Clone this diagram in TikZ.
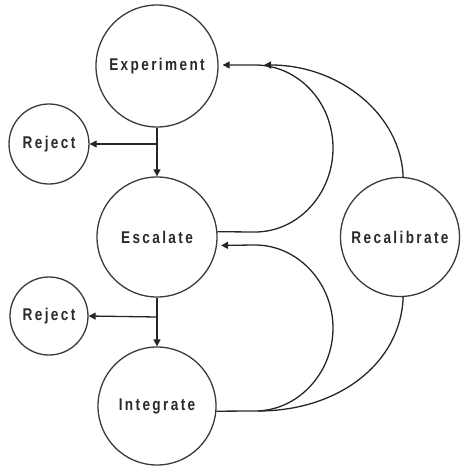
\documentclass[tikz,border=0pt]{standalone}
\usepackage{fontspec}
\newfontfamily\lblfont{Liberation Sans}[FakeStretch=0.8,LetterSpace=14,BoldFont={* Bold}]
\usetikzlibrary{arrows.meta}
\definecolor{ln}{HTML}{3A3A3A}
\definecolor{tx}{HTML}{2A2A2A}
\begin{document}
\begin{tikzpicture}[x=1pt,y=-1pt,
  state/.style={circle,draw=ln,line width=1.3pt,inner sep=0pt,text=tx,
    font=\lblfont\bfseries\fontsize{17}{20}\selectfont},
  arr/.style={draw=black!85,line width=1.3pt,-{Triangle[length=7pt,width=7pt]}},
  ln/.style={draw=black!85,line width=1.3pt}]
\useasboundingbox (0,0) rectangle (461,466);
\node[state,minimum size=122pt] (exp) at (157,66) {Experiment};
\node[state,minimum size=80pt] (rej1) at (49,144) {Reject};
\node[state,minimum size=120pt] (esc) at (157,237) {Escalate};
\node[state,minimum size=78pt] (rej2) at (49,316) {Reject};
\node[state,minimum size=118pt] (int) at (157,406) {Integrate};
\node[state,minimum size=119pt] (rec) at (400,237) {Recalibrate};
\coordinate (b1) at (157,144);
\coordinate (b2) at (157,317);
\coordinate (m1) at (264,65);
\coordinate (m2) at (258,411);
\draw[arr] (exp.south) -- (esc.north);
\draw[arr] (b1) -- (rej1.east);
\draw[arr] (esc.south) -- (int.north);
\draw[arr] (b2) -- (rej2.east);
\draw[arr,shorten >=4pt] (esc.5) -- (255,232) .. controls (298,232) and (333,194) .. (333,148)
   .. controls (333,102) and (298,65) .. (255,65) -- (exp.east |- 0,65);
\draw[arr] (rec.87) .. controls (401,115) and (340,65) .. (m1);
\draw[arr,shorten >=4pt] (int.-5) -- (255,411) .. controls (298,411) and (333,373) .. (333,328)
   .. controls (333,283) and (298,245) .. (255,245) -- (esc.-8);
\draw[ln] (rec.-87) .. controls (401,362) and (340,411) .. (m2);
\end{tikzpicture}
\end{document}
